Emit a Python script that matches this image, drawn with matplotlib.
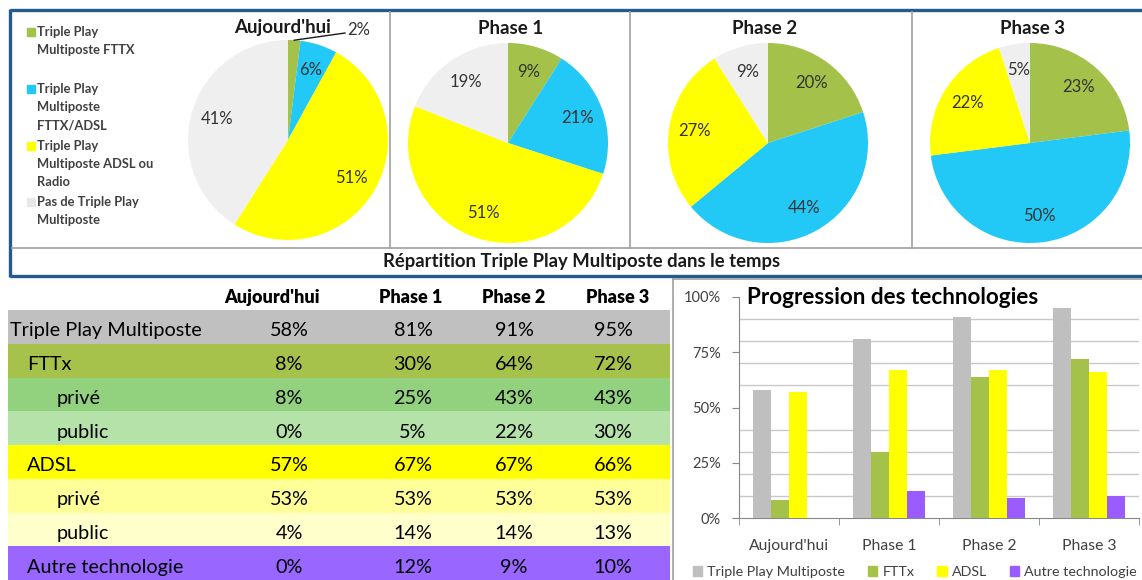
import matplotlib
matplotlib.use('Agg')
import matplotlib.pyplot as plt
from matplotlib.patches import Patch
import numpy as np

plt.rcParams['font.family'] = ['Lato', 'DejaVu Sans']

W, H = 1142, 580

# pies : share of the 4 situations for each period
periods = ["Aujourd'hui", "Phase 1", "Phase 2", "Phase 3"]
pie_fttx = [2, 9, 20, 23]
pie_fttx_adsl = [6, 21, 44, 50]
pie_adsl_radio = [51, 51, 27, 22]
pie_none = [41, 19, 9, 5]
pie_legend = ["Triple Play\nMultiposte FTTX",
              "Triple Play\nMultiposte\nFTTX/ADSL",
              "Triple Play\nMultiposte ADSL ou\nRadio",
              "Pas de Triple Play\nMultiposte"]

# table / bars
row_labels = ["Triple Play Multiposte", "FTTx", "privé", "public",
              "ADSL", "privé", "public", "Autre technologie"]
tp = [58, 81, 91, 95]
fttx = [8, 30, 64, 72]
fttx_prive = [8, 25, 43, 43]
fttx_public = [0, 5, 22, 30]
adsl = [57, 67, 67, 66]
adsl_prive = [53, 53, 53, 53]
adsl_public = [4, 14, 14, 13]
autre = [0, 12, 9, 10]
bar_names = ["Triple Play Multiposte", "FTTx", "ADSL", "Autre technologie"]

pie_colors = ['#A4C14A', '#22C8F6', '#FFFF00', '#EFEFEF']
row_colors = ['#C0C0C0', '#A6C24A', '#92D27F', '#B5E2A8',
              '#FFFF00', '#FFFF99', '#FFFFCC', '#9966FF']
bar_colors = ['#BFBFBF', '#A4C14A', '#FFFF00', '#9B5CFF']
frame_blue = '#245A8D'
frame_gray = '#A0A0A0'


def rect(x, y, w, h):
    return [x / W, 1 - (y + h) / H, w / W, h / H]


fig = plt.figure(figsize=(W / 100, H / 100), dpi=100)

# background layer in pixel coordinates (frames and legend)
bg = fig.add_axes([0, 0, 1, 1])
bg.set_xlim(0, W)
bg.set_ylim(H, 0)
bg.axis('off')

bg.plot([10, W], [10, 10], color=frame_blue, lw=2.4, solid_capstyle='butt')
bg.plot([10, W], [276, 276], color=frame_blue, lw=2.4, solid_capstyle='butt')
bg.plot([10, 10], [9, 277], color=frame_blue, lw=2.4, solid_capstyle='butt')
bg.plot([12, W], [248, 248], color=frame_gray, lw=1.2)
for x in [390, 630, 912]:
    bg.plot([x, x], [12, 248], color=frame_gray, lw=1.2)
bg.plot([673, 673], [279, H], color=frame_gray, lw=1.2)
bg.plot([673, W], [279, 279], color=frame_gray, lw=1.2)
bg.text(582, 262, "Répartition Triple Play Multiposte dans le temps",
        ha='center', va='center', fontsize=13.3, fontweight='bold', color='#1a1a1a')

# pie legend
first_lines = [32, 89, 146, 202]
for lab, y0, c in zip(pie_legend, first_lines, pie_colors):
    bg.add_patch(plt.Rectangle((27, y0 - 4), 8, 8, color=c if c != '#EFEFEF' else '#E8E8E8'))
    for k, line in enumerate(lab.split('\n')):
        bg.text(37, y0 + k * 18, line, ha='left', va='center', fontsize=9.3,
                fontweight='bold', color='#404040')

# pies
centers = [(288, 140), (508, 143), (768, 143), (1030, 143)]
title_x = [283, 511, 765, 1033]
r = 100
for i, name in enumerate(periods):
    vals = [pie_fttx[i], pie_fttx_adsl[i], pie_adsl_radio[i], pie_none[i]]
    cx, cy = centers[i]
    ax = fig.add_axes(rect(cx - r, cy - r, 2 * r, 2 * r))
    ax.patch.set_visible(False)
    wedges, texts, autos = ax.pie(vals, colors=pie_colors, startangle=90,
                                  counterclock=False, radius=1,
                                  autopct=lambda p: f'{p:.0f}%', pctdistance=0.74,
                                  textprops=dict(fontsize=12, color='#333333'))
    ax.set_xlim(-1, 1)
    ax.set_ylim(-1, 1)
    if i == 0:
        a = np.deg2rad(90 - 3.6 * vals[0] / 2)
        ex, ey = np.cos(a), np.sin(a)
        autos[0].set_position((0.71, 1.10))
        autos[0].set_clip_on(False)
        ax.plot([ex, 0.57], [ey, 1.07], color='#1a1a1a', lw=1, clip_on=False)
    bg.text(title_x[i], 28, name, ha='center', va='center', fontsize=13.5,
            fontweight='bold', color='#1a1a1a')

# table
row_h = 33.75
tab = fig.add_axes(rect(8, 280, 662, 300))
tab.patch.set_visible(False)
tab.axis('off')
tab.set_xlim(8, 670)
tab.set_ylim(7.5, 7.5 - 300 / row_h)
table_vals = [tp, fttx, fttx_prive, fttx_public, adsl, adsl_prive, adsl_public, autre]
indent = [10, 27, 57, 57, 27, 57, 57, 27]
col_x = [289, 413, 514, 613]
head_x = [272, 411, 514, 618]
tab.barh(range(len(row_labels)), 662, left=8, height=1, color=row_colors)
for j, name in enumerate(periods):
    tab.text(head_x[j], -0.86, name, ha='center', va='center', fontsize=13,
             fontweight='heavy', color='black')
for i, lab in enumerate(row_labels):
    tab.text(indent[i], i + 0.12, lab, ha='left', va='center', fontsize=14.3, color='black')
    for j, v in enumerate(table_vals[i]):
        tab.text(col_x[j], i + 0.12, f'{v}%', ha='center', va='center', fontsize=14.3,
                 color='black')

# bar chart
bx = fig.add_axes(rect(739, 297, 400, 221))
bx.patch.set_visible(False)
x = np.arange(len(periods))
bw = 0.18
series = [tp, fttx, adsl, autre]
for k, (vals, c) in enumerate(zip(series, bar_colors)):
    bx.bar(x + (k - 1.5) * bw, vals, width=bw, color=c, zorder=3)
bx.set_xlim(-0.5, 3.5)
bx.set_ylim(0, 100)
bx.set_yticks([0, 25, 50, 75, 100])
bx.set_yticklabels(['0%', '25%', '50%', '75%', '100%'])
bx.set_yticks(range(10, 101, 10), minor=True)
bx.yaxis.grid(True, which='minor', color='#C8C8C8', lw=1, zorder=0)
bx.tick_params(axis='y', which='minor', length=0)
bx.tick_params(axis='y', which='major', length=5, color='#868686', labelsize=10.5,
               labelcolor='#404040', pad=8)
bx.set_xticks(x)
bx.set_xticklabels(periods)
bx.set_xticks(np.arange(-0.5, 4, 1), minor=True)
bx.tick_params(axis='x', which='major', length=0, pad=15, labelsize=11.3,
               labelcolor='#404040')
bx.tick_params(axis='x', which='minor', length=5, color='#868686')
for s in ['top', 'right']:
    bx.spines[s].set_visible(False)
bx.spines['left'].set_color('#868686')
bx.spines['bottom'].set_color('#868686')
bx.text(0.02, 1.0, "Progression des technologies", transform=bx.transAxes,
        ha='left', va='center', fontsize=16.2, fontweight='bold', color='black')

handles = [Patch(color=c) for c in bar_colors]
fig.legend(handles, bar_names, loc='center', bbox_to_anchor=(915 / W, 1 - 572 / H),
           ncol=4, frameon=False, fontsize=10.3, handlelength=0.65, handleheight=0.65,
           handletextpad=0.35, columnspacing=1.6, labelcolor='#404040')

fig.savefig('out.png', dpi=100)
